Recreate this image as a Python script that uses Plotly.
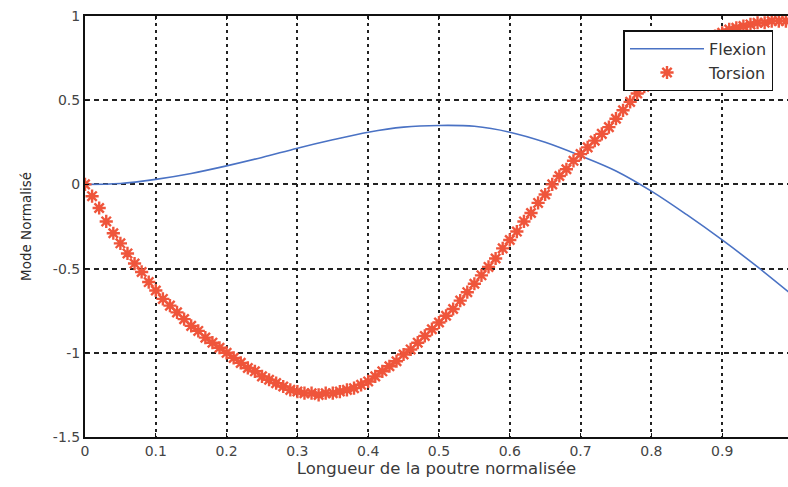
import plotly.graph_objects as go

# Flexion mode shape (normalised), sampled along the beam
flex_x = [0.00, 0.05, 0.10, 0.15, 0.20, 0.25, 0.30, 0.35, 0.40, 0.45, 0.50,
          0.55, 0.60, 0.65, 0.70, 0.75, 0.80, 0.85, 0.90, 0.95, 1.00]
flex_y = [0.00, 0.005, 0.03, 0.065, 0.11, 0.16, 0.215, 0.265, 0.31, 0.34, 0.35,
          0.345, 0.31, 0.25, 0.17, 0.08, -0.04, -0.18, -0.33, -0.49, -0.66]

# Torsion mode shape (normalised), one sample every 0.01
tors_x = [i / 100 for i in range(101)]
tors_y = [0.00, -0.07, -0.14, -0.22, -0.29, -0.35, -0.41, -0.47, -0.52, -0.58,
          -0.63, -0.68, -0.72, -0.76, -0.80, -0.84, -0.87, -0.91, -0.94, -0.97,
          -1.00, -1.03, -1.06, -1.09, -1.11, -1.14, -1.16, -1.18, -1.20, -1.22,
          -1.23, -1.24, -1.24, -1.25, -1.24, -1.24, -1.23, -1.22, -1.21, -1.19,
          -1.17, -1.14, -1.11, -1.08, -1.05, -1.01, -0.98, -0.94, -0.90, -0.86,
          -0.82, -0.78, -0.74, -0.69, -0.64, -0.59, -0.54, -0.49, -0.44, -0.38,
          -0.33, -0.28, -0.22, -0.17, -0.11, -0.06, 0.00, 0.05, 0.09, 0.14,
          0.18, 0.22, 0.26, 0.30, 0.34, 0.39, 0.44, 0.49, 0.54, 0.58,
          0.61, 0.65, 0.68, 0.72, 0.75, 0.78, 0.81, 0.84, 0.86, 0.88,
          0.90, 0.92, 0.93, 0.94, 0.95, 0.96, 0.96, 0.97, 0.97, 0.97,
          0.97]

x_ticks = [0, 0.1, 0.2, 0.3, 0.4, 0.5, 0.6, 0.7, 0.8, 0.9]
x_tick_text = ["0", "0.1", "0.2", "0.3", "0.4", "0.5", "0.6", "0.7", "0.8", "0.9"]
y_ticks = [-1.5, -1, -0.5, 0, 0.5, 1]
y_tick_text = ["-1.5", "-1", "-0.5", "0", "0.5", "1"]

FONT = "DejaVu Sans, Verdana, sans-serif"

fig = go.Figure()
fig.add_trace(go.Scatter(
    x=flex_x, y=flex_y, mode="lines", name="Flexion",
    line=dict(color="#4a72c4", width=1.6, shape="spline"),
))
fig.add_trace(go.Scatter(
    x=tors_x, y=tors_y, mode="markers", name="Torsion",
    marker=dict(symbol="asterisk-open", size=11,
                line=dict(color="#f93a52", width=2.4)),
))

axis_font = dict(family=FONT, size=14, color="#444")

fig.update_layout(
    width=788, height=487,
    margin=dict(l=85, r=0, t=16, b=50),
    paper_bgcolor="white", plot_bgcolor="white",
    font=dict(family=FONT, color="#2a2a2a"),
    showlegend=True,
    legend=dict(
        x=0.766, y=0.966, xanchor="left", yanchor="top",
        bgcolor="white", bordercolor="#111", borderwidth=1.5,
        font=dict(family=FONT, size=16, color="#333"),
        itemwidth=74, tracegroupgap=0,
    ),
    xaxis=dict(
        range=[0, 0.993], tickvals=x_ticks, ticktext=x_tick_text,
        tickfont=axis_font,
        showline=True, linecolor="#111", linewidth=2, mirror="ticks",
        ticks="inside", ticklen=4, tickcolor="#111",
        showgrid=True, gridcolor="#222", gridwidth=1.6, griddash="3px,4px",
        zeroline=False,
        title=dict(text="Longueur de la poutre normalisée",
                   font=dict(family=FONT, size=16.5, color="#3a3a3a"), standoff=0),
    ),
    yaxis=dict(
        range=[-1.5, 1], tickvals=y_ticks, ticktext=y_tick_text,
        tickfont=axis_font,
        showline=True, linecolor="#111", linewidth=2, mirror=False,
        ticks="inside", ticklen=4, tickcolor="#111",
        showgrid=True, gridcolor="#222", gridwidth=1.6, griddash="5px,4px",
        zeroline=False,
        title=dict(text="Mode Normalisé", font=dict(family=FONT, size=13.5, color="#2a2a2a"),
                   standoff=18),
    ),
)

fig.write_html("out.html")
